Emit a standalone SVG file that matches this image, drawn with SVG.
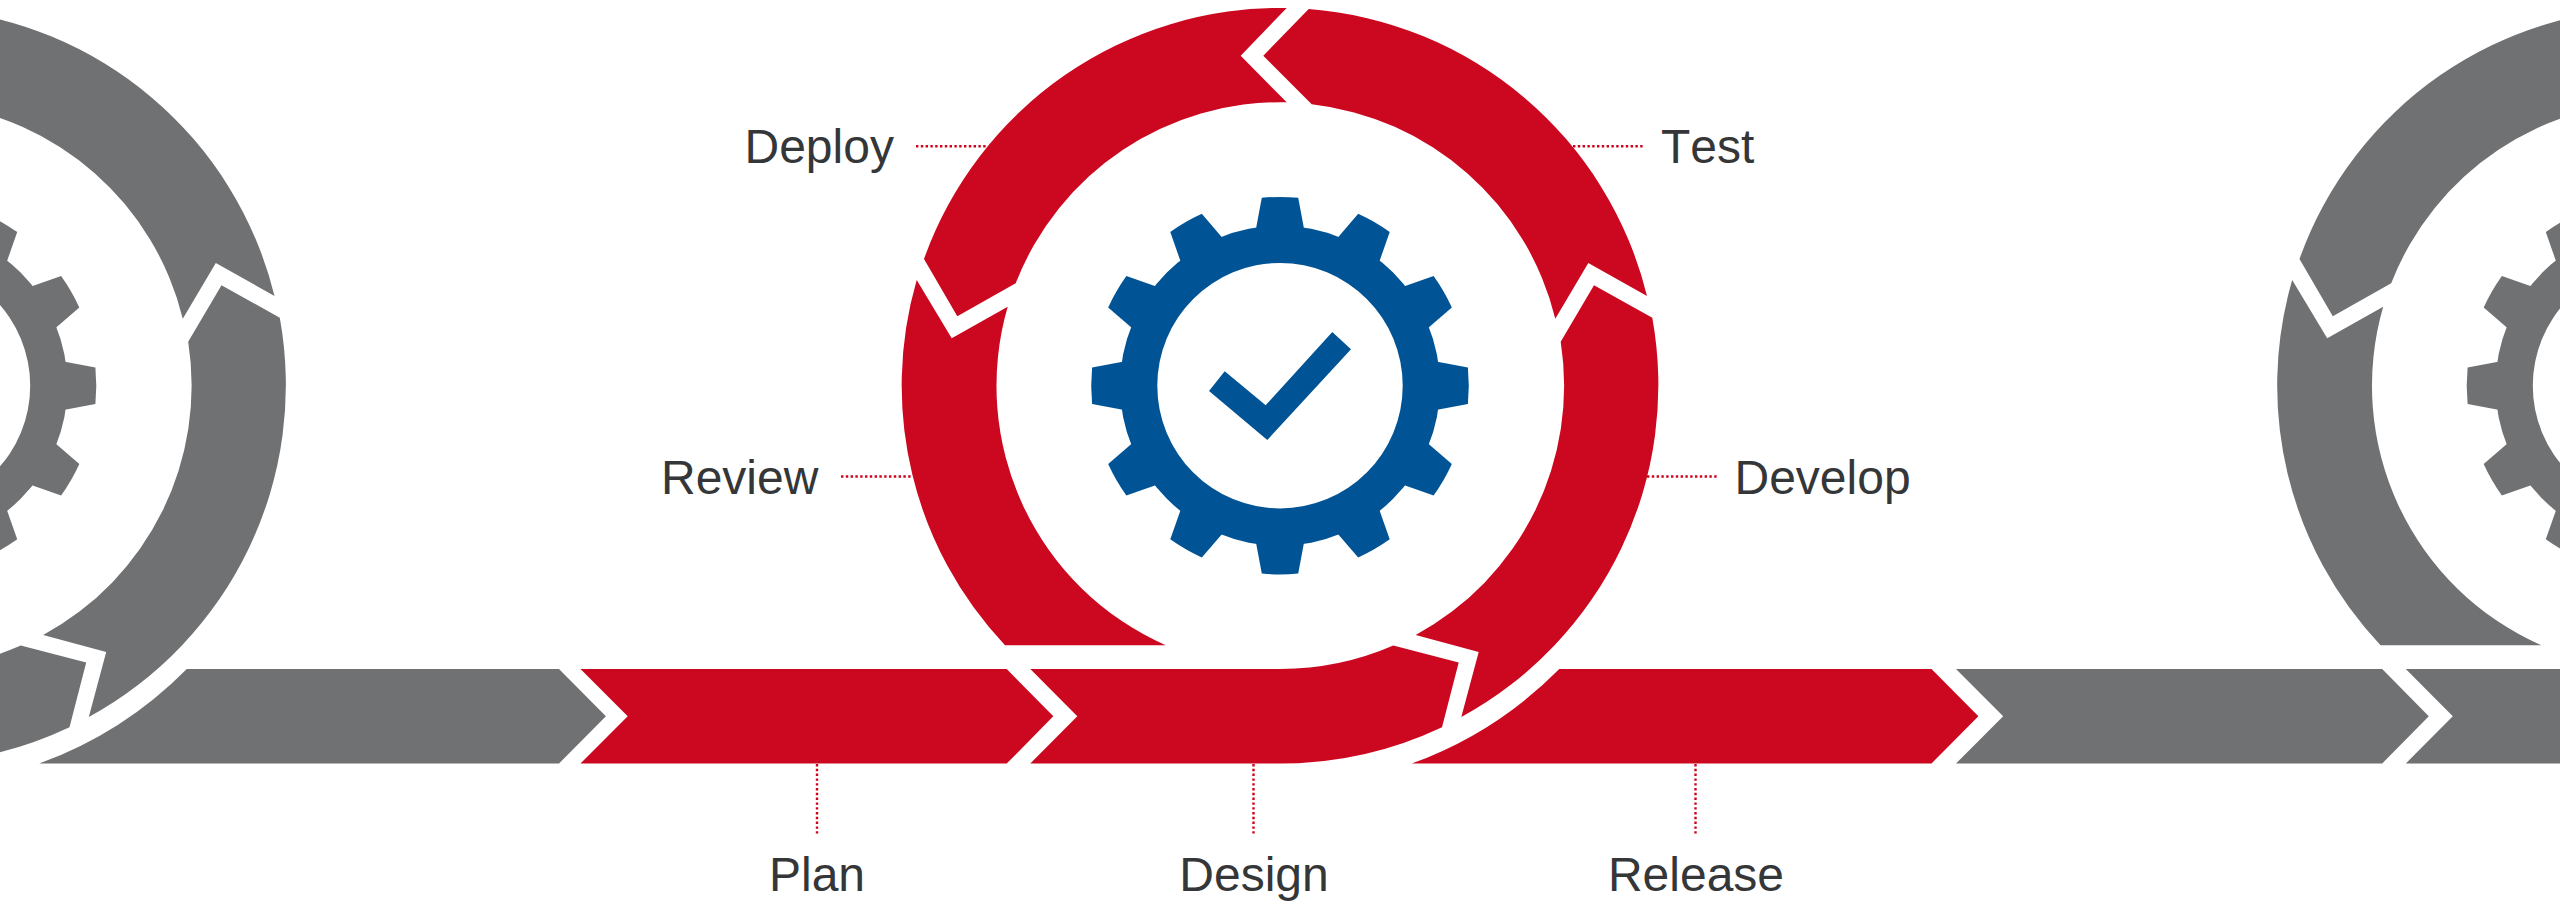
<svg xmlns="http://www.w3.org/2000/svg" width="2560" height="908" viewBox="0 0 2560 908">
<style>
.red{fill:#cc0820}
.gray{fill:#707173}
.blue{fill:#005496}
.lbl{font-family:"Liberation Sans",Arial,sans-serif;font-size:48px;font-kerning:none;fill:#353638}
.mid{text-anchor:middle}
.dot{stroke:#d0021b;stroke-width:2.4;stroke-dasharray:2.4 2.4;fill:none}
</style>
<defs>
<path id="tooth" d="M-24.2 -156 L-18.2 -187.9 A189 189 0 0 1 18.2 -187.9 L24.2 -156 Z"/>
<g id="gear-shape">
<path fill-rule="evenodd" d="M-160 0 A160 160 0 1 1 160 0 A160 160 0 1 1 -160 0 Z M-122.7 0 A122.7 122.7 0 1 0 122.7 0 A122.7 122.7 0 1 0 -122.7 0 Z"/>
<use href="#tooth"/>
<use href="#tooth" transform="rotate(30)"/>
<use href="#tooth" transform="rotate(60)"/>
<use href="#tooth" transform="rotate(90)"/>
<use href="#tooth" transform="rotate(120)"/>
<use href="#tooth" transform="rotate(150)"/>
<use href="#tooth" transform="rotate(180)"/>
<use href="#tooth" transform="rotate(210)"/>
<use href="#tooth" transform="rotate(240)"/>
<use href="#tooth" transform="rotate(270)"/>
<use href="#tooth" transform="rotate(300)"/>
<use href="#tooth" transform="rotate(330)"/>
</g>
<path id="p-deploy" d="M924 259 A378 378 0 0 1 1286.7 8 L1240.7 55.7 L1286.7 102.3 A283.6 283.6 0 0 0 1015.7 283.3 L957.3 316.3 Z"/>
<path id="p-test" d="M1308.7 9 A378 378 0 0 1 1647 296 L1588.3 263 L1555.3 318.7 A283.6 283.6 0 0 0 1311.7 104.3 L1263.3 55.7 Z"/>
<path id="p-develop" d="M1652.3 317.7 A378 378 0 0 1 1461.3 717 L1478.7 652 L1415.7 635 A283.6 283.6 0 0 0 1560.7 341.7 L1594 285.3 Z"/>
<path id="p-review" d="M916.7 280 A378 378 0 0 0 1005 645.2 L1165.7 645.2 A283.6 283.6 0 0 1 1007.7 306.7 L951.7 338.3 Z"/>
<path id="p-plan" d="M580.5 669 L1006.7 669 L1053.3 716.3 L1006.7 763.6 L580.5 763.6 L627.7 716.3 Z"/>
<path id="p-design" d="M1030.3 669 L1280 669 A283.6 283.6 0 0 0 1393.3 645.6 L1458.7 662.6 L1442 727.3 A378 378 0 0 1 1280 763.6 L1030.3 763.6 L1077.3 716.3 Z"/>
<path id="p-release" d="M1559.3 669 L1931.5 669 L1978.4 716.3 L1931.5 763.6 L1411.7 763.6 A399 399 0 0 0 1559.3 669 Z"/>
</defs>
<rect width="2560" height="908" fill="#ffffff"/>
<g id="previous-cycle" class="gray" transform="translate(-1372.5 0)">
<use href="#p-test"/><use href="#p-develop"/><use href="#p-design"/><use href="#p-release"/>
<use href="#gear-shape" transform="translate(1280 385.7)"/>
</g>
<g id="next-cycle" class="gray" transform="translate(1375.5 0)">
<use href="#p-plan"/><use href="#p-design"/><use href="#p-review"/><use href="#p-deploy"/>
<use href="#gear-shape" transform="translate(1280 385.7)"/>
</g>
<g id="connectors">
<line class="dot" x1="916" y1="146.3" x2="988" y2="146.3"/>
<line class="dot" x1="1573" y1="146.3" x2="1643" y2="146.3"/>
<line class="dot" x1="841" y1="476.5" x2="913" y2="476.5"/>
<line class="dot" x1="1647" y1="476.5" x2="1718" y2="476.5"/>
<line class="dot" x1="817" y1="764" x2="817" y2="836"/>
<line class="dot" x1="1253.5" y1="764" x2="1253.5" y2="836"/>
<line class="dot" x1="1695.5" y1="764" x2="1695.5" y2="836"/>
</g>
<g id="node-plan"><use class="red" href="#p-plan"/><text class="lbl mid" x="817" y="890.5">Plan</text></g>
<g id="node-design"><use class="red" href="#p-design"/><text class="lbl mid" x="1254" y="890.5">Design</text></g>
<g id="node-release"><use class="red" href="#p-release"/><text class="lbl mid" x="1696" y="890.5">Release</text></g>
<g id="node-develop"><use class="red" href="#p-develop"/><text class="lbl" x="1734.5" y="494">Develop</text></g>
<g id="node-test"><use class="red" href="#p-test"/><text class="lbl" x="1661" y="163.3">Test</text></g>
<g id="node-deploy"><use class="red" href="#p-deploy"/><text class="lbl" x="744.5" y="163.3">Deploy</text></g>
<g id="node-review"><use class="red" href="#p-review"/><text class="lbl" x="661" y="494">Review</text></g>
<g id="node-gear" class="blue">
<use href="#gear-shape" transform="translate(1280 385.7)"/>
<path d="M1209 391 L1224.7 371.3 L1265.7 405.3 L1332.3 332 L1351 349.3 L1267.3 440 Z"/>
</g>
</svg>
